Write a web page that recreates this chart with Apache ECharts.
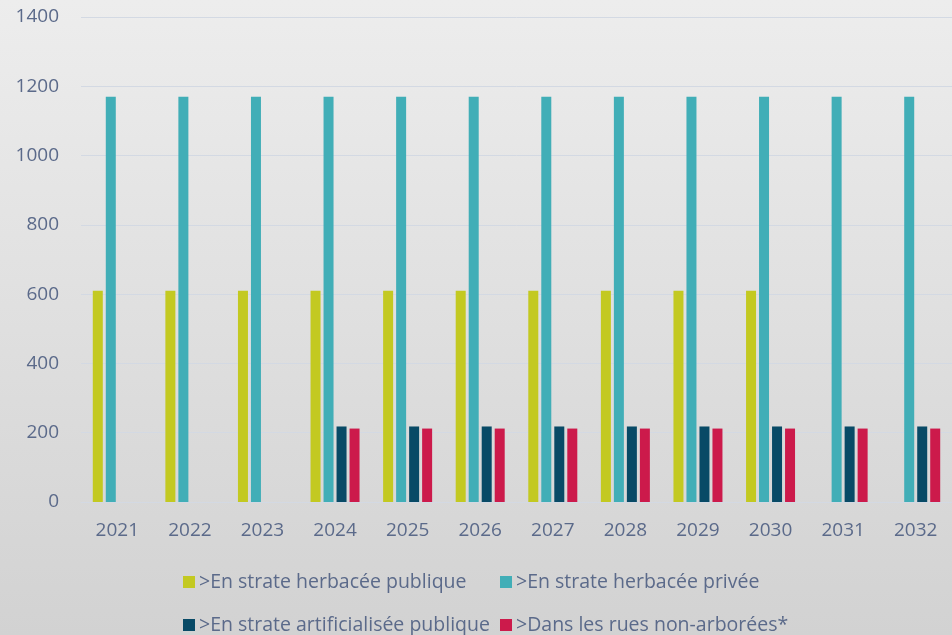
<!DOCTYPE html>
<html>
<head>
<meta charset="utf-8">
<script src="https://cdn.jsdelivr.net/npm/echarts@6/dist/echarts.min.js"></script>
<style>
  html, body { margin: 0; padding: 0; }
  #chart { width: 952px; height: 635px; }
</style>
</head>
<body>
<div id="chart"></div>
<script>
const years = ['2021', '2022', '2023', '2024', '2025', '2026', '2027', '2028', '2029', '2030', '2031', '2032']
const herbaceePublique = [610, 610, 610, 610, 610, 610, 610, 610, 610, 610, null, null]
const herbaceePrivee = [1170, 1170, 1170, 1170, 1170, 1170, 1170, 1170, 1170, 1170, 1170, 1170]
const artificialiseePublique = [null, null, null, 218, 218, 218, 218, 218, 218, 218, 218, 218]
const ruesNonArborees = [null, null, null, 212, 212, 212, 212, 212, 212, 212, 212, 212]

const names = [
  '>En strate herbacée publique',
  '>En strate herbacée privée',
  '>En strate artificialisée publique',
  '>Dans les rues non-arborées*'
]
const colors = ['#c3c921', '#41aeb7', '#084a66', '#cc1a4b']
const labelColor = '#5b6a8a'
const font = 'Open Sans'

const chart = echarts.init(document.getElementById('chart'))

// one legend per entry so the two columns line up like the original
const legendAt = (name, left, top) => ({
  left: left,
  top: top,
  data: [name],
  itemWidth: 12,
  itemHeight: 12,
  icon: 'rect',
  padding: 0,
  textStyle: { color: labelColor, fontSize: 19.5, fontFamily: font, padding: [0, 0, 0, -1] }
})

const barSeries = (i, data) => ({
  name: names[i],
  type: 'bar',
  data: data,
  barWidth: 10,
  barGap: '30%',
  itemStyle: { color: colors[i] }
})

chart.setOption({
  backgroundColor: {
    type: 'linear', x: 0, y: 0, x2: 0, y2: 1,
    colorStops: [{ offset: 0, color: '#ededed' }, { offset: 1, color: '#d2d2d2' }]
  },
  animation: false,
  legend: [
    legendAt(names[0], 183, 572),
    legendAt(names[1], 500, 572),
    legendAt(names[2], 183, 615),
    legendAt(names[3], 500, 615)
  ],
  grid: {
    left: 81,
    top: 17,
    width: 876,
    height: 485
  },
  xAxis: {
    type: 'category',
    data: years,
    axisTick: { show: false },
    axisLine: { show: true, lineStyle: { color: '#d3d9e3' } },
    axisLabel: { color: labelColor, fontSize: 19, fontFamily: font, margin: 19 }
  },
  yAxis: {
    type: 'value',
    min: 0,
    max: 1400,
    interval: 200,
    axisLine: { show: false },
    axisTick: { show: false },
    axisLabel: { color: labelColor, fontSize: 19, fontFamily: font, margin: 22, formatter: v => String(v) },
    splitLine: { lineStyle: { color: '#d3d9e3', width: 1 } }
  },
  series: [
    barSeries(0, herbaceePublique),
    barSeries(1, herbaceePrivee),
    barSeries(2, artificialiseePublique),
    barSeries(3, ruesNonArborees)
  ]
})
</script>
</body>
</html>
